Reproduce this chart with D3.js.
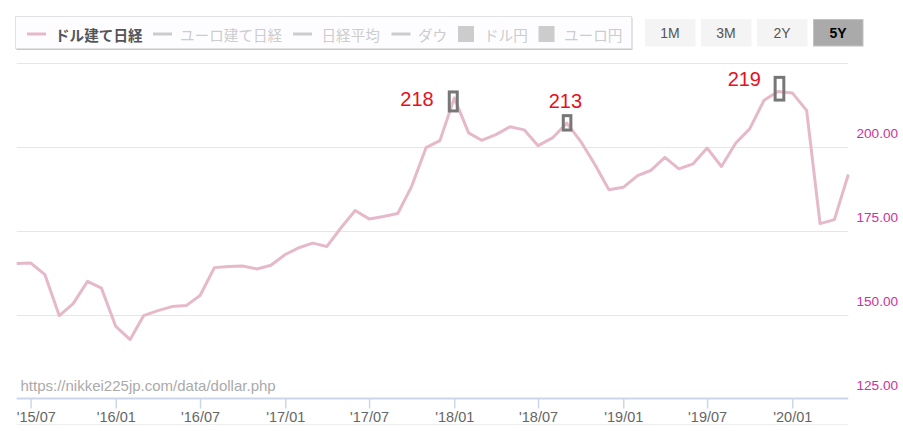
<!DOCTYPE html>
<html>
<head>
<meta charset="utf-8">
<script src="https://cdn.jsdelivr.net/npm/d3@7/dist/d3.min.js"></script>
<style>
  html, body { margin: 0; padding: 0; background: #fff; }
  svg { display: block; }
</style>
</head>
<body>
<svg id="chart" width="903" height="431"></svg>
<script>
// ---------- DATA ----------
const months = [
  "2015-06","2015-07","2015-08","2015-09","2015-10","2015-11","2015-12",
  "2016-01","2016-02","2016-03","2016-04","2016-05","2016-06","2016-07","2016-08","2016-09","2016-10","2016-11","2016-12",
  "2017-01","2017-02","2017-03","2017-04","2017-05","2017-06","2017-07","2017-08","2017-09","2017-10","2017-11","2017-12",
  "2018-01","2018-02","2018-03","2018-04","2018-05","2018-06","2018-07","2018-08","2018-09","2018-10","2018-11","2018-12",
  "2019-01","2019-02","2019-03","2019-04","2019-05","2019-06","2019-07","2019-08","2019-09","2019-10","2019-11","2019-12",
  "2020-01","2020-02","2020-03","2020-04","2020-05"
];
const dollarNikkei = [
  165.3, 165.5, 162.0, 149.8, 153.4, 160.0, 158.0, 146.6, 142.7, 149.8,
  151.3, 152.5, 152.8, 155.8, 164.1, 164.4, 164.6, 163.7, 164.8, 168.0,
  170.1, 171.4, 170.4, 175.9, 181.1, 178.6, 179.3, 180.2, 188.3, 199.8,
  201.9, 214.6, 204.2, 202.0, 203.7, 206.0, 205.1, 200.4, 202.7, 207.1,
  201.7, 194.7, 187.3, 188.0, 191.5, 193.0, 196.9, 193.5, 195.0, 199.7,
  194.2, 201.2, 205.4, 213.9, 216.5, 216.1, 210.9, 177.2, 178.4, 191.8
];
const yTicks = [125, 150, 175, 200, 225];
const yLabelTicks = [125, 150, 175, 200];
const xTickMonths = ["2015-07","2016-01","2016-07","2017-01","2017-07","2018-01","2018-07","2019-01","2019-07","2020-01"];
const legendLabels = ["ドル建て日経", "ユーロ建て日経", "日経平均", "ダウ", "ドル円", "ユーロ円"];
const legendTypes = ["line", "line", "line", "line", "box", "box"];
const rangeButtons = ["1M", "3M", "2Y", "5Y"];
const activeButton = "5Y";
const annotMonths = ["2018-01", "2018-09", "2019-12"];
const annotLabels = ["218", "213", "219"];
const sourceText = "https://nikkei225jp.com/data/dollar.php";

// ---------- LAYOUT ----------
const svg = d3.select("#chart");
const plotL = 16.7, plotR = 848.3, plotT = 63, plotB = 399;
const parse = d3.timeParse("%Y-%m");
const data = months.map((m, i) => ({ date: parse(m), value: dollarNikkei[i] }));

const x = d3.scaleTime()
  .domain([parse(months[0]), parse(months[months.length - 1])])
  .range([plotL, plotR]);
const y = d3.scaleLinear().domain([125, 225]).range([plotB, plotT]);

const FONT = "Arial, 'Liberation Sans', sans-serif";
const JFONT = "'Noto Sans CJK JP', sans-serif";

// grid lines
svg.append("g").selectAll("line")
  .data(yTicks.filter(t => t !== 125))
  .join("line")
  .attr("x1", plotL).attr("x2", plotR)
  .attr("y1", d => Math.round(y(d)) + 0.5).attr("y2", d => Math.round(y(d)) + 0.5)
  .attr("stroke", "#e6e6e6").attr("stroke-width", 1);

// faint bottom line
svg.append("line")
  .attr("x1", plotL).attr("x2", plotR).attr("y1", 424.5).attr("y2", 424.5)
  .attr("stroke", "#eeeeee").attr("stroke-width", 1);

// x axis
const xAxis = d3.axisBottom(x)
  .tickValues(xTickMonths.map(parse))
  .tickFormat(d3.timeFormat("'%y/%m"))
  .tickSize(10)
  .tickSizeOuter(0);
const gx = svg.append("g")
  .attr("transform", `translate(0,${plotB - 0.5})`)
  .call(xAxis);
gx.select(".domain").attr("stroke", "#ccd6eb").attr("stroke-width", 2)
  .attr("d", `M${plotL},0H${plotR}`);
gx.selectAll(".tick line").attr("stroke", "#ccd6eb").attr("stroke-width", 1.5);
gx.selectAll(".tick text")
  .attr("fill", "#666").attr("font-size", "14.5px").attr("font-family", FONT)
  .attr("y", 13);
gx.selectAll(".tick text").each(function() {
  const bb = this.getBBox();
  const tx = d3.select(this.parentNode).attr("transform");
  const m = /translate\(([-\d.]+)/.exec(tx);
  const ox = m ? +m[1] : 0;
  if (ox + bb.x < plotL) d3.select(this).attr("x", plotL - (ox + bb.x));
});

// y labels (right side)
svg.append("g").selectAll("text")
  .data(yLabelTicks)
  .join("text")
  .attr("x", 856.5)
  .attr("y", d => y(d) - 14)
  .attr("dominant-baseline", "central")
  .attr("fill", "#cc3399")
  .attr("font-size", "13.6px").attr("font-family", FONT)
  .text(d => d3.format(".2f")(d));

// source text
svg.append("text")
  .attr("x", 20.5).attr("y", 385)
  .attr("dominant-baseline", "central")
  .attr("fill", "#aaaaaa").attr("font-size", "15px").attr("font-family", FONT)
  .text(sourceText);

// line
const line = d3.line().x(d => x(d.date)).y(d => y(d.value));
svg.append("path")
  .datum(data)
  .attr("fill", "none")
  .attr("stroke", "#e6b9ca")
  .attr("stroke-width", 3)
  .attr("stroke-linejoin", "round")
  .attr("d", line);

// annotations
const annotLayout = [
  { bx: -5, by: -6, bw: 8, bh: 19, tx: -37.3, ty: 0.7 },
  { bx: -3.5, by: -7.5, bw: 7.6, bh: 14.4, tx: -1.4, ty: -22.3 },
  { bx: -2.8, by: -14.2, bw: 8.7, bh: 22.7, tx: -33.6, ty: -12.7 }
];
annotMonths.forEach((m, i) => {
  const d = data.find(p => +p.date === +parse(m));
  const px = x(d.date), py = y(d.value), L = annotLayout[i];
  svg.append("rect")
    .attr("x", px + L.bx).attr("y", py + L.by)
    .attr("width", L.bw).attr("height", L.bh)
    .attr("fill", "none").attr("stroke", "#777").attr("stroke-width", 3);
  svg.append("text")
    .attr("x", px + L.tx).attr("y", py + L.ty)
    .attr("text-anchor", "middle").attr("dominant-baseline", "central")
    .attr("fill", "#e8101c").attr("font-size", "20px").attr("font-family", FONT)
    .text(annotLabels[i]);
});

// legend box
const lg = svg.append("g");
lg.append("rect").attr("x", 16.5).attr("y", 18).attr("width", 616).attr("height", 32)
  .attr("fill", "#c8c8c8");
lg.append("rect").attr("x", 15.5).attr("y", 16.5).attr("width", 616).attr("height", 32)
  .attr("fill", "#fdfdff").attr("stroke", "#e2e2e2").attr("stroke-width", 1);

const legendSymX = [27, 153, 293, 391.5, 458, 538.5];
const legendTextX = [55, 180, 321.5, 418, 484, 564];
legendLabels.forEach((lab, i) => {
  const active = i === 0;
  const col = active ? "#e6b9ca" : "#cccccc";
  if (legendTypes[i] === "line") {
    lg.append("line")
      .attr("x1", legendSymX[i]).attr("x2", legendSymX[i] + 19)
      .attr("y1", 34).attr("y2", 34)
      .attr("stroke", col).attr("stroke-width", 3);
  } else {
    lg.append("rect")
      .attr("x", legendSymX[i]).attr("y", 26)
      .attr("width", 16).attr("height", 16)
      .attr("fill", "#cccccc");
  }
  lg.append("text")
    .attr("x", legendTextX[i]).attr("y", 34)
    .attr("dominant-baseline", "central")
    .attr("fill", active ? "#555555" : "#cccccc")
    .attr("font-weight", active ? "bold" : "normal")
    .attr("font-size", "14.6px").attr("font-family", JFONT)
    .text(lab);
});

// range buttons
const btnX = [645, 701, 757, 813];
rangeButtons.forEach((b, i) => {
  const active = b === activeButton;
  svg.append("rect")
    .attr("x", btnX[i] + 0.5).attr("y", 19.5).attr("width", 49.5).attr("height", 26.5)
    .attr("fill", active ? "#aaaaaa" : "#f4f4f4")
    .attr("stroke", active ? "#c2c2c2" : "#f4f4f4").attr("stroke-width", 1);
  svg.append("text")
    .attr("x", btnX[i] + 25).attr("y", 33)
    .attr("text-anchor", "middle").attr("dominant-baseline", "central")
    .attr("fill", active ? "#000" : "#555")
    .attr("font-weight", active ? "bold" : "normal")
    .attr("font-size", "14px").attr("font-family", FONT)
    .text(b);
});
</script>
</body>
</html>
